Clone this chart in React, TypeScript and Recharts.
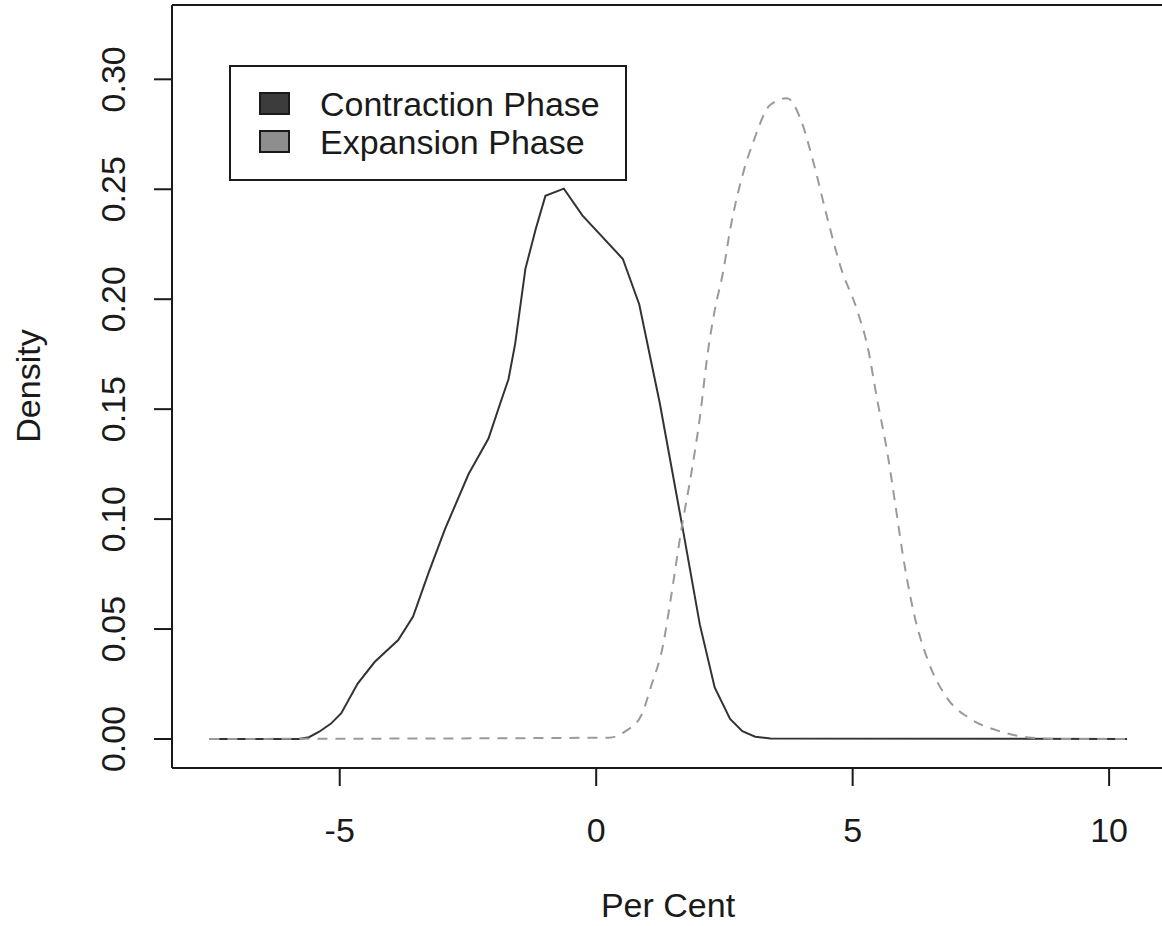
import React from "react";
import {
  LineChart,
  Line,
  XAxis,
  YAxis,
  Legend,
  Label,
} from "recharts";

// density estimates (per cent vs density)
const contractionX = [
  -7.54, -5.8, -5.6, -5.4, -5.17, -4.97, -4.65, -4.32, -3.86, -3.57, -3.27,
  -2.95, -2.49, -2.1, -1.87, -1.71, -1.58, -1.38, -1.18, -0.99, -0.63, -0.27,
  0.52, 0.84, 1.24, 1.69, 2.02, 2.31, 2.61, 2.85, 3.1, 3.4, 10.35,
];
const contractionY = [
  0, 0, 0.0008, 0.0033, 0.007, 0.0117, 0.0252, 0.035, 0.045, 0.0557, 0.0754,
  0.0953, 0.1204, 0.1366, 0.1527, 0.1636, 0.1797, 0.2138, 0.2318, 0.247,
  0.2503, 0.2381, 0.2183, 0.1976, 0.1527, 0.0953, 0.0521, 0.0234, 0.0091,
  0.0035, 0.001, 0.0002, 0,
];

const expansionX = [
  -7.54, 0.25, 0.58, 0.88, 1.07, 1.3, 1.46, 1.66, 1.86, 2.02, 2.18, 2.31, 2.48,
  2.61, 2.87, 3.07, 3.39, 3.72, 3.98, 4.24, 4.5, 4.76, 5.09, 5.29, 5.48, 5.68,
  5.84, 5.97, 6.2, 6.46, 6.86, 7.25, 7.84, 8.43, 9.0, 10.35,
];
const expansionY = [
  0, 0.0006, 0.0037, 0.0108, 0.024, 0.0423, 0.0647, 0.0952, 0.1216, 0.146,
  0.1765, 0.1948, 0.2131, 0.2314, 0.2578, 0.272, 0.2883, 0.2914, 0.2822,
  0.2618, 0.2375, 0.2151, 0.1948, 0.1785, 0.1541, 0.1297, 0.1054, 0.085,
  0.0565, 0.0362, 0.018, 0.0098, 0.0037, 0.0007, 0, 0,
];

const xTicks = [-5, 0, 5, 10];
const yTicks = [0, 0.05, 0.1, 0.15, 0.2, 0.25, 0.3];
const seriesNames = ["Contraction Phase", "Expansion Phase"];
const legendFills = ["#3c3c3c", "#8e8e8e"];

const contraction = contractionX.map((v, i) => ({ v, d: contractionY[i] }));
const expansion = expansionX.map((v, i) => ({ v, d: expansionY[i] }));

const FONT = "'Liberation Sans', Arial, sans-serif";
const INK = "#1a1a1a";

const XTick = (props: any) => {
  const { x, payload } = props;
  return (
    <text
      x={x}
      y={842}
      textAnchor="middle"
      fontFamily={FONT}
      fontSize={34}
      fill={INK}
    >
      {String(payload.value)}
    </text>
  );
};

const YTick = (props: any) => {
  const { y, payload } = props;
  return (
    <text
      x={125}
      y={y}
      transform={`rotate(-90, 125, ${y})`}
      textAnchor="middle"
      fontFamily={FONT}
      fontSize={34}
      fill={INK}
    >
      {Number(payload.value).toFixed(2)}
    </text>
  );
};

const LegendBox = () => (
  <svg width={400} height={118} style={{ display: "block" }}>
    <rect x={1} y={1} width={396} height={114} fill="#fff" stroke={INK} strokeWidth={2} />
    {seriesNames.map((name, i) => (
      <g key={name}>
        <rect
          x={31}
          y={28 + i * 38}
          width={29}
          height={21}
          fill={legendFills[i]}
          stroke={INK}
          strokeWidth={2}
        />
        <text
          x={91}
          y={51 + i * 38}
          fontFamily={FONT}
          fontSize={34}
          fill={INK}
        >
          {name}
        </text>
      </g>
    ))}
  </svg>
);

export default function App() {
  return (
    <div
      style={{
        position: "absolute",
        left: 0,
        top: 0,
        width: 1162,
        height: 926,
        overflow: "hidden",
        background: "#fff",
      }}
    >
      <LineChart
        width={1172}
        height={926}
        margin={{ top: 0, right: 8, bottom: 0, left: 0 }}
      >
        <XAxis
          dataKey="v"
          type="number"
          domain={[-8.27, 11.07]}
          allowDataOverflow
          ticks={xTicks}
          tick={<XTick />}
          tickSize={18}
          height={158}
          axisLine={{ stroke: INK, strokeWidth: 2 }}
          tickLine={{ stroke: INK, strokeWidth: 2 }}
        >
          <Label
            content={({ viewBox }: any) => (
              <text
                x={viewBox.x + viewBox.width / 2}
                y={917}
                textAnchor="middle"
                fontFamily={FONT}
                fontSize={34}
                fill={INK}
              >
                Per Cent
              </text>
            )}
          />
        </XAxis>
        <XAxis
          xAxisId="top"
          orientation="top"
          type="number"
          domain={[-8.27, 11.07]}
          height={5}
          tick={false}
          tickLine={false}
          axisLine={{ stroke: INK, strokeWidth: 2 }}
        />
        <YAxis
          type="number"
          domain={[-0.0132, 0.3338]}
          allowDataOverflow
          ticks={yTicks}
          tick={<YTick />}
          tickSize={18}
          width={172}
          axisLine={{ stroke: INK, strokeWidth: 2 }}
          tickLine={{ stroke: INK, strokeWidth: 2 }}
        >
          <Label
            content={() => (
              <text
                x={40}
                y={386}
                transform="rotate(-90, 40, 386)"
                textAnchor="middle"
                fontFamily={FONT}
                fontSize={34}
                fill={INK}
              >
                Density
              </text>
            )}
          />
        </YAxis>
        <YAxis
          yAxisId="right"
          orientation="right"
          type="number"
          domain={[-0.0132, 0.3338]}
          width={0}
          tick={false}
          tickLine={false}
          axisLine={{ stroke: INK, strokeWidth: 2 }}
        />
        <Legend
          layout="horizontal"
          verticalAlign="middle"
          align="center"
          content={() => <LegendBox />}
          wrapperStyle={{ left: 229, top: 65, width: 400, height: 118 }}
        />
        <Line
          data={contraction}
          dataKey="d"
          name={seriesNames[0]}
          type="linear"
          stroke="#333333"
          strokeWidth={2}
          dot={false}
          isAnimationActive={false}
        />
        <Line
          data={expansion}
          dataKey="d"
          name={seriesNames[1]}
          type="monotone"
          stroke="#9a9a9a"
          strokeWidth={2}
          strokeDasharray="10 8"
          dot={false}
          isAnimationActive={false}
        />
      </LineChart>
    </div>
  );
}
